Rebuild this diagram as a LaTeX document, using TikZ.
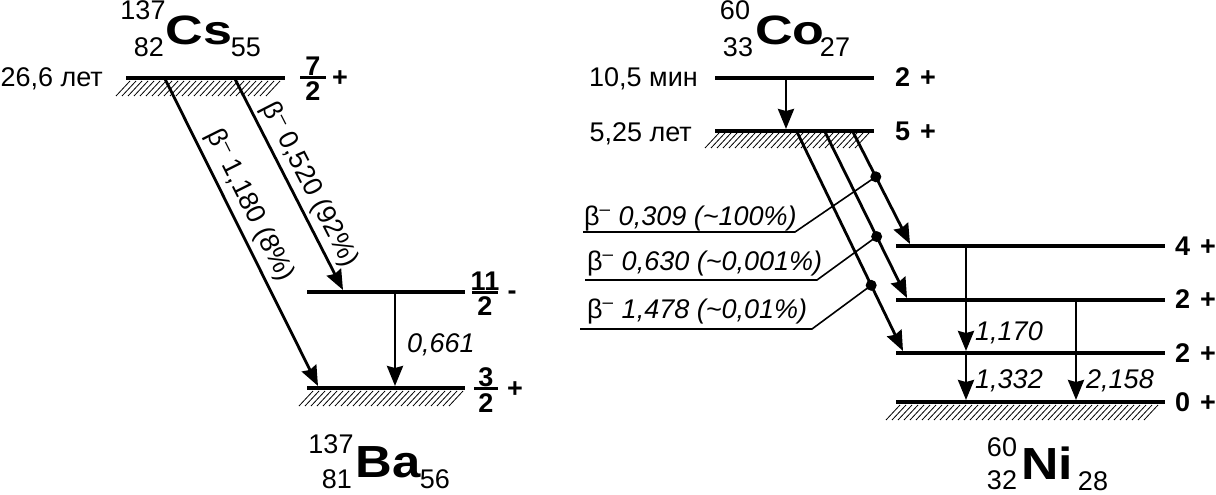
\documentclass[tikz,border=0pt]{standalone}
\usepackage{fontspec}
\setmainfont{Liberation Sans}
\usetikzlibrary{arrows.meta}
\begin{document}
\begin{tikzpicture}[x=1pt,y=-1pt,
  txt/.style={font=\fontsize{27}{31}\selectfont, inner sep=0pt},
  bftxt/.style={font=\fontsize{27}{31}\selectfont\bfseries, inner sep=0pt},
  ittxt/.style={font=\fontsize{27}{31}\selectfont\itshape, inner sep=0pt},
  bigA/.style={font=\fontsize{41}{48}\selectfont\bfseries, inner sep=0pt},
  bigB/.style={font=\fontsize{45}{52}\selectfont\bfseries, inner sep=0pt},
  lvl/.style={line width=4pt},
  bar/.style={line width=3pt},
  arr/.style={line width=2.8pt, -{Stealth[length=20pt,width=16pt,inset=2pt]}},
  lead/.style={line width=1.6pt},
  hatch/.style={line width=0.8pt},
  dotst/.style={circle, fill=black, inner sep=0pt, minimum size=11pt}]
\useasboundingbox (0,0) rectangle (1216,495);

% ---------------- Cs -> Ba ----------------
\node[txt, anchor=base] (cs137) at (143,20) {137};
\node[txt, anchor=base] (cs82) at (149,57) {82};
\node[bigA, anchor=base] (cs) at (199,45) {\scalebox{1.27}[1]{Cs}};
\node[txt, anchor=base] (cs55) at (246,57) {55};

\node[txt, anchor=base east] (cst) at (103,87) {26,6 лет};
\draw[lvl] (126,78) coordinate (csL) -- (285,78) coordinate (csR);
\foreach \x in {116,122,...,266} \draw[hatch] (\x,96) -- ++(14,-15);
\node[bftxt, anchor=base] (cs7) at (313,75) {7};
\node[bftxt, anchor=base] (cs2) at (313,100) {2};
\draw[bar] (300,78) -- (326,78);
\node[bftxt, anchor=base] (csp) at (340,87) {+};

\draw[lvl] (307,292) coordinate (baAL) -- (465,292) coordinate (baAR);
\node[bftxt, anchor=base] (ba11) at (485,290) {11};
\node[bftxt, anchor=base] (ba11d) at (485,315) {2};
\draw[bar] (472,292) -- (498,292);
\node[bftxt, anchor=base] (bam) at (512,299) {-};

\draw[lvl] (307,388) coordinate (baBL) -- (465,388) coordinate (baBR);
\foreach \x in {299,305,...,449} \draw[hatch] (\x,406) -- ++(14,-15);
\node[bftxt, anchor=base] (ba3) at (486,386) {3};
\node[bftxt, anchor=base] (ba3d) at (486,412) {2};
\draw[bar] (474,388) -- (498,388);
\node[bftxt, anchor=base] (bap) at (515,397) {+};

\coordinate (b1s) at (165,79);
\coordinate (b1e) at (318,386);
\coordinate (b2s) at (235,79);
\coordinate (b2e) at (343,290);
\draw[arr] (b1s) -- node[txt, sloped, pos=0.44, above=5pt] (lb1) {β\textsuperscript{–} 1,180 (8\%)} (b1e);
\draw[arr] (b2s) -- node[txt, sloped, pos=0.54, above=4pt] (lb2) {β\textsuperscript{–} 0,520 (92\%)} (b2e);

\coordinate (g1s) at (395,292);
\coordinate (g1e) at (395,386);
\draw[arr] (g1s) -- (g1e);
\node[ittxt, anchor=base west] (g1l) at (407,352) {0,661};

\node[txt, anchor=base] (ba137) at (331,453) {137};
\node[txt, anchor=base] (ba81) at (337,488) {81};
\node[bigB, anchor=base] (ba) at (388,477) {\scalebox{1.13}[1]{Ba}};
\node[txt, anchor=base] (ba56) at (435,488) {56};

% ---------------- Co -> Ni ----------------
\node[txt, anchor=base] (co60) at (735,20) {60};
\node[txt, anchor=base] (co33) at (738,57) {33};
\node[bigA, anchor=base] (co) at (790,45) {\scalebox{1.27}[1]{Co}};
\node[txt, anchor=base] (co27) at (835,57) {27};

\node[txt, anchor=base east] (cot1) at (698,87) {10,5 мин};
\draw[lvl] (715,78) -- (874,78);
\node[bftxt, anchor=base west] (cos1) at (895,86) {2\hspace{10pt}+};

\node[txt, anchor=base east] (cot2) at (692,141) {5,25 лет};
\draw[lvl] (715,131) -- (874,131);
\foreach \x in {705,711,...,859} \draw[hatch] (\x,148) -- ++(14,-15);
\node[bftxt, anchor=base west] (cos2) at (895,140) {5\hspace{10pt}+};

\coordinate (cg1s) at (786,79);
\coordinate (cg1e) at (786,129);
\draw[arr] (cg1s) -- (cg1e);

% Ni levels
\draw[lvl] (896,246) -- (1165,246);
\draw[lvl] (896,300) -- (1165,300);
\draw[lvl, line width=3.2pt] (896,353) -- (1165,353);
\draw[lvl] (896,402) -- (1165,402);
\foreach \x in {886,892,...,1146} \draw[hatch] (\x,420) -- ++(14,-15);
\node[bftxt, anchor=base west] (ni4) at (1175,255) {4\hspace{10pt}+};
\node[bftxt, anchor=base west] (ni2a) at (1175,308) {2\hspace{10pt}+};
\node[bftxt, anchor=base west] (ni2b) at (1175,362) {2\hspace{10pt}+};
\node[bftxt, anchor=base west] (ni0) at (1175,411) {0\hspace{10pt}+};

% beta arrows
\coordinate (cb1s) at (853,132);
\coordinate (cb1e) at (910,244);
\coordinate (cb2s) at (825,132);
\coordinate (cb2e) at (907,298);
\coordinate (cb3s) at (797,132);
\coordinate (cb3e) at (903,351);
\draw[arr] (cb1s) -- coordinate[pos=0.40] (d1) (cb1e);
\draw[arr] (cb2s) -- coordinate[pos=0.63] (d2) (cb2e);
\draw[arr] (cb3s) -- coordinate[pos=0.70] (d3) (cb3e);
\node[dotst] (dd1) at (d1) {};
\node[dotst] (dd2) at (d2) {};
\node[dotst] (dd3) at (d3) {};

\coordinate (k1) at (795,232);
\coordinate (e1) at (583,232);
\coordinate (k2) at (817,280);
\coordinate (e2) at (585,280);
\coordinate (k3) at (812,329);
\coordinate (e3) at (580,329);
\draw[lead] (dd1.center) -- (k1) -- (e1);
\draw[lead] (dd2.center) -- (k2) -- (e2);
\draw[lead] (dd3.center) -- (k3) -- (e3);
\node[txt, anchor=base west] (bl1) at (584,225) {β\textsuperscript{–}\hspace{8pt}\itshape 0,309 (\textasciitilde100\%)};
\node[txt, anchor=base west] (bl2) at (587,270) {β\textsuperscript{–}\hspace{8pt}\itshape 0,630 (\textasciitilde0,001\%)};
\node[txt, anchor=base west] (bl3) at (587,318) {β\textsuperscript{–}\hspace{8pt}\itshape 1,478 (\textasciitilde0,01\%)};

% gamma arrows
\coordinate (ng1s) at (966,246);
\coordinate (ng1e) at (966,351);
\coordinate (ng2s) at (966,353);
\coordinate (ng2e) at (966,400);
\coordinate (ng3s) at (1076,300);
\coordinate (ng3e) at (1076,400);
\draw[arr] (ng1s) -- (ng1e);
\draw[arr] (ng2s) -- (ng2e);
\draw[arr] (ng3s) -- (ng3e);
\node[ittxt, anchor=base west] (ngl1) at (975,340) {1,170};
\node[ittxt, anchor=base west] (ngl2) at (975,388) {1,332};
\node[ittxt, anchor=base west] (ngl3) at (1086,388) {2,158};

\node[txt, anchor=base] (ni60) at (1002,456) {60};
\node[txt, anchor=base] (ni32) at (1002,489) {32};
\node[bigB, anchor=base] (ni) at (1047,479) {\scalebox{1.15}[1]{Ni}};
\node[txt, anchor=base] (ni28) at (1093,490) {28};
\end{tikzpicture}
\end{document}
